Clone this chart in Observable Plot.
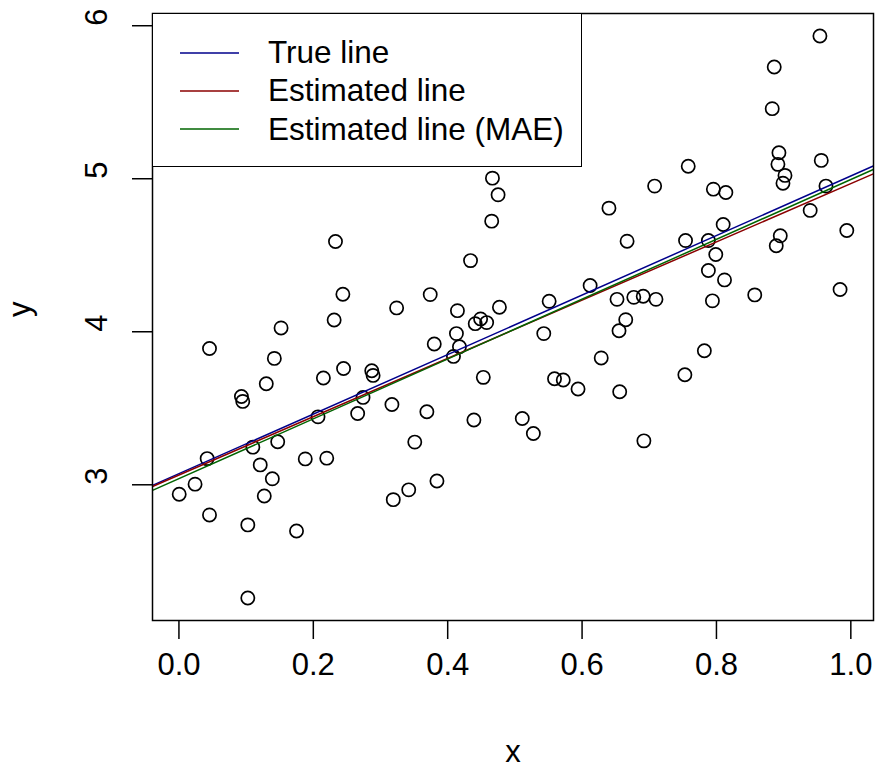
<!DOCTYPE html>
<html>
<head>
<meta charset="utf-8">
<script src="https://cdn.jsdelivr.net/npm/d3@7"></script>
<script src="https://cdn.jsdelivr.net/npm/@observablehq/plot@0.6"></script>
<style>
  html, body { margin: 0; padding: 0; background: #fff; }
  #wrap { position: relative; width: 878px; height: 770px; font-family: "Liberation Sans", Arial, sans-serif; }
  #legend { position: absolute; left: 152px; top: 13px; width: 428px; height: 152px; border: 1.5px solid #000; background: #fff; box-sizing: content-box; }
  .item { position: absolute; left: 0; height: 38px; display: flex; align-items: center; font-size: 31.5px; color: #000; white-space: nowrap; }
  .item svg { margin-left: 27px; margin-right: 29px; }
</style>
</head>
<body>
<div id="wrap"></div>
<script>
// ---- data ----
const xVals = [0.0455,0.152,0.231,0.324,0.142,0.130,0.093,0.095,0.215,0.245,
  0.287,0.289,0.274,0.266,0.317,0.207,0.147,0.110,0.042,0.188,
  0.220,0.121,0.139,0.024,0.0004,0.127,0.0455,0.319,0.1025,0.175,
  0.1025,0.233,0.244,0.342,0.4666,0.475,0.4655,0.434,0.640,0.667,
  0.374,0.4145,0.477,0.441,0.449,0.458,0.551,0.612,0.652,0.677,
  0.665,0.655,0.413,0.543,0.380,0.4175,0.4086,0.6285,0.453,0.559,
  0.572,0.594,0.656,0.369,0.439,0.511,0.5275,0.351,0.384,0.954,
  0.886,0.883,0.893,0.8915,0.902,0.899,0.956,0.963,0.9395,0.994,
  0.895,0.889,0.984,0.857,0.758,0.708,0.7954,0.814,0.810,0.754,
  0.788,0.799,0.788,0.812,0.794,0.691,0.710,0.782,0.753,0.692];
const yVals = [3.891,4.025,4.077,4.156,3.826,3.660,3.577,3.545,3.698,3.760,
  3.745,3.715,3.571,3.466,3.525,3.444,3.281,3.246,3.171,3.169,
  3.174,3.130,3.039,3.004,2.938,2.927,2.803,2.903,2.738,2.698,
  2.260,4.590,4.245,2.967,5.004,4.895,4.723,4.465,4.808,4.592,
  4.243,4.138,4.160,4.053,4.084,4.060,4.199,4.302,4.212,4.225,
  4.079,4.007,3.988,3.988,3.920,3.902,3.839,3.829,3.702,3.693,
  3.685,3.626,3.608,3.477,3.423,3.433,3.335,3.279,3.025,5.933,
  5.730,5.458,5.170,5.094,5.022,4.971,5.120,4.952,4.793,4.662,
  4.627,4.562,4.276,4.241,5.082,4.952,4.932,4.910,4.701,4.596,
  4.596,4.505,4.400,4.339,4.202,4.232,4.212,3.876,3.719,3.287];

const lineNames = ["True line", "Estimated line", "Estimated line (MAE)"];
const lineIntercepts = [3.073, 3.064, 3.040];
const lineSlopes = [1.945, 1.904, 1.955];
const lineColors = ["#00008B", "#8B0000", "#006400"];

const xTicks = [0, 0.2, 0.4, 0.6, 0.8, 1.0];
const xTickLabels = ["0.0", "0.2", "0.4", "0.6", "0.8", "1.0"];
const yTicks = [3, 4, 5, 6];
const yTickLabels = ["3", "4", "5", "6"];

// ---- build ----
const points = xVals.map((x, i) => ({x, y: yVals[i]}));
function pad(ext) { const r = ext[1] - ext[0]; return [ext[0] - 0.04 * r, ext[1] + 0.04 * r]; }
const xDom = pad(d3.extent(xVals));
const yDom = pad(d3.extent(yVals));

const lineData = [];
lineNames.forEach((name, i) => {
  xDom.forEach(x => lineData.push({name, x, y: lineIntercepts[i] + lineSlopes[i] * x}));
});

const FONT = "Liberation Sans, Arial, Helvetica, sans-serif";

const chart = Plot.plot({
  width: 878,
  height: 770,
  marginLeft: 152,
  marginRight: 5,
  marginTop: 13,
  marginBottom: 150,
  style: {fontFamily: FONT, background: "#fff", color: "#000"},
  x: {domain: xDom, axis: null},
  y: {domain: yDom, axis: null},
  color: {domain: lineNames, range: lineColors},
  marks: [
    Plot.dot(points, {x: "x", y: "y", r: 6.6, stroke: "#000", strokeWidth: 1.7, fill: "none"}),
    Plot.line(lineData, {x: "x", y: "y", z: "name", stroke: "name", strokeWidth: 1.5, clip: true}),
    Plot.frame({stroke: "#000", strokeWidth: 1.5}),
    Plot.axisX({ticks: xTicks, tickFormat: (d, i) => xTickLabels[i], tickSize: 19, tickPadding: 13, fontSize: 31, label: null, strokeWidth: 1.5}),
    Plot.axisY({ticks: yTicks, tickFormat: () => "", tickSize: 20, label: null, strokeWidth: 1.5}),
    Plot.text(yTicks, {y: d => d, text: (d, i) => yTickLabels[i], frameAnchor: "left", dx: -55, rotate: -90, fontSize: 31}),
    Plot.text(["x"], {frameAnchor: "bottom", dy: 141, fontSize: 31}),
    Plot.text(["y"], {frameAnchor: "left", dx: -132, rotate: -90, fontSize: 31})
  ]
});

const wrap = document.getElementById("wrap");
wrap.appendChild(chart);

// legend overlay
const legend = document.createElement("div");
legend.id = "legend";
lineNames.forEach((name, i) => {
  const item = document.createElement("div");
  item.className = "item";
  item.style.top = (19.5 + i * 38.3) + "px";
  item.innerHTML = `<svg width="59" height="4"><line x1="0" y1="2" x2="59" y2="2" stroke="${lineColors[i]}" stroke-width="1.5"/></svg><span>${name}</span>`;
  legend.appendChild(item);
});
wrap.appendChild(legend);
</script>
</body>
</html>
